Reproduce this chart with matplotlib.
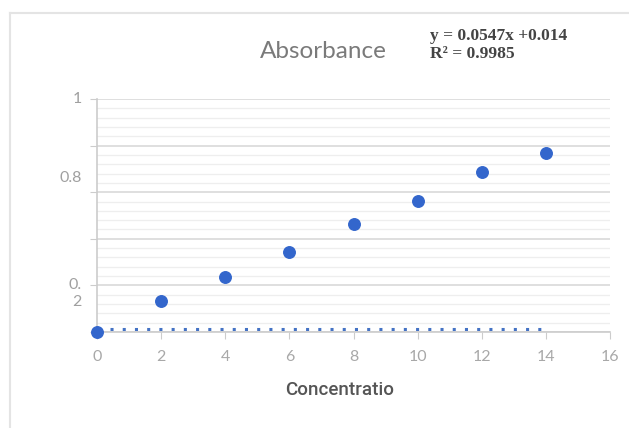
import matplotlib
matplotlib.use("Agg")
import matplotlib.pyplot as plt
from matplotlib.ticker import MultipleLocator
from matplotlib.lines import Line2D

concentration = [0, 2, 4, 6, 8, 10, 12, 14]
absorbance = [0.0, 0.133, 0.236, 0.343, 0.464, 0.562, 0.687, 0.768]
x_ticks = [0, 2, 4, 6, 8, 10, 12, 14, 16]
trend_x = [0.4, 14]
trend_y = [0.013, 0.013]
title = "Absorbance"
eq_line1 = "y = 0.0547x +0.014"
eq_line2 = "R² = 0.9985"
xlabel = "Concentratio"
ytick_texts = [("1", 1.0), ("0.8", 0.661), ("0.", 0.2), ("2", 0.129)]

W, H = 629, 428
fig = plt.figure(figsize=(W / 100, H / 100), dpi=100)
fig.patch.set_facecolor("white")

# outer frame lines (top and left)
fig.add_artist(Line2D([10 / W, 1], [1 - 13 / H, 1 - 13 / H], color="#e4e4e4", lw=1.5))
fig.add_artist(Line2D([10 / W, 10 / W], [0, 1 - 13 / H], color="#e4e4e4", lw=1.5))

ax = fig.add_axes([97 / W, 1 - 332 / H, (610 - 97) / W, (332 - 99) / H])
ax.set_xlim(0, 16)
ax.set_ylim(0, 1)

ax.yaxis.set_major_locator(MultipleLocator(0.2))
ax.yaxis.set_minor_locator(MultipleLocator(0.04))
ax.grid(which="major", axis="y", color="#d9d9d9", lw=1.2)
ax.grid(which="minor", axis="y", color="#eeeeee", lw=0.9)
ax.set_axisbelow(True)

for s in ["top", "right"]:
    ax.spines[s].set_visible(False)
ax.spines["left"].set_color("#cccccc")
ax.spines["bottom"].set_color("#cccccc")
ax.spines["left"].set_linewidth(1.2)
ax.spines["bottom"].set_linewidth(1.2)

ax.set_xticks(x_ticks)
ax.set_xticklabels([str(v) for v in x_ticks], fontfamily="Lato", fontsize=11.5, color="#a8a8a8")
ax.tick_params(axis="x", direction="out", length=5, color="#cccccc", pad=8)
ax.tick_params(axis="y", which="major", direction="out", length=5, color="#cccccc", labelleft=False)
ax.tick_params(axis="y", which="minor", length=0)

for txt, yv in ytick_texts:
    ax.annotate(txt, xy=(0, yv), xycoords=ax.get_yaxis_transform(),
                xytext=(-11, 0), textcoords="offset points",
                ha="right", va="center", fontfamily="Lato",
                fontsize=11.5, color="#a0a0a0")

ax.plot(trend_x, trend_y, color="#4472c4", lw=2.2, dashes=(1, 3.0),
        dash_capstyle="butt", clip_on=False)
ax.plot(concentration, absorbance, "o", color="#3366cc", markersize=8.3,
        clip_on=False, zorder=5)

fig.text(323 / W, 1 - 52 / H, title, ha="center", va="center",
         fontfamily="Lato", fontsize=17.5, color="#7a7a7a")
fig.text(430 / W, 1 - 36 / H, eq_line1, ha="left", va="center",
         fontfamily="Liberation Serif", fontweight="bold", fontsize=12.5, color="#444444")
fig.text(430 / W, 1 - 54 / H, eq_line2, ha="left", va="center",
         fontfamily="Liberation Serif", fontweight="bold", fontsize=12.5, color="#444444")

fig.text(340 / W, 1 - 390 / H, xlabel, ha="center", va="center",
         fontfamily="Roboto", fontweight="medium", fontsize=13.5, color="#555555")

fig.savefig("out.png", dpi=100, facecolor="white")
